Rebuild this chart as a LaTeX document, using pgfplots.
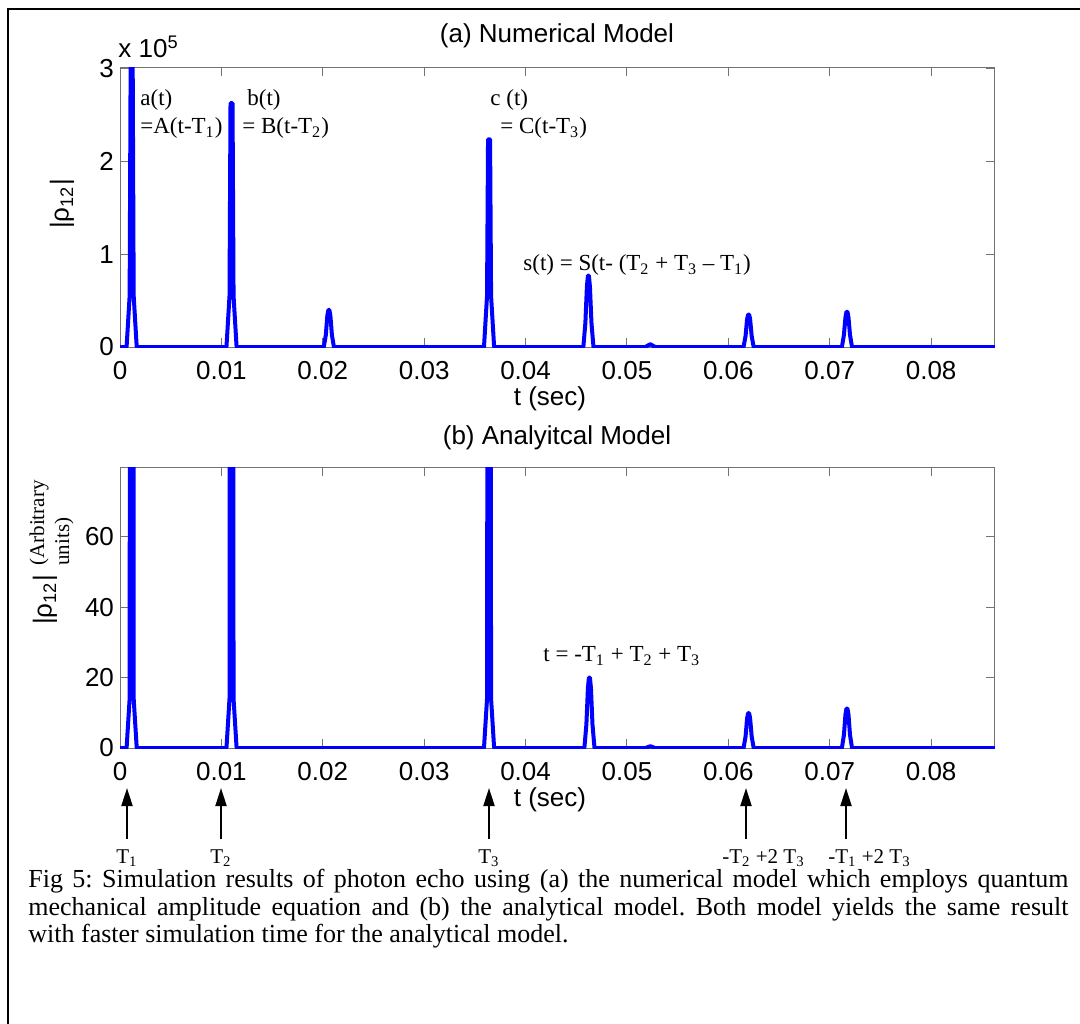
\documentclass[border=0pt]{standalone}
\usepackage{fontspec}
\setmainfont{Liberation Sans}
\newfontfamily\tnr{Liberation Serif}
\usepackage{pgfplots}
\pgfplotsset{compat=1.18}
\usetikzlibrary{arrows.meta}
\newcommand{\sz}{\fontsize{13}{15}\selectfont}
\newcommand{\tz}{\tnr\fontsize{11.5}{13}\selectfont}
\definecolor{axgray}{gray}{0.45}
\definecolor{mblue}{rgb}{0,0,1}

\pgfplotsset{
  panel/.style={
    scale only axis, width=437.5pt,
    xmin=0, xmax=0.0863,
    scaled x ticks=false, scaled y ticks=false,
    axis line style={axgray, line width=0.5pt},
    tick style={axgray, line width=0.5pt},
    major tick length=4.4pt,
    tick align=inside,
    xtick={0,0.01,0.02,0.03,0.04,0.05,0.06,0.07,0.08},
    xticklabels={0,0.01,0.02,0.03,0.04,0.05,0.06,0.07,0.08},
    ticklabel style={font=\sz, text=black},
    xticklabel style={yshift=-3.5pt},
    yticklabel style={xshift=0.5pt},
    clip=true,
  }
}

\begin{document}
\begin{tikzpicture}[x=1pt,y=1pt]
\useasboundingbox (0,0) rectangle (540,-511.5);
% outer frame (left and top edges visible)
\draw[line width=1pt] (4,-700) -- (4,-4.5) -- (700,-4.5);

% ---------- (a) numerical model ----------
\begin{axis}[panel, at={(60pt,-173.5pt)}, anchor=south west,
  height=140pt, ymin=0, ymax=3.02,
  ytick={0,1,2,3}, yticklabels={0,1,2,3}]
\addplot[mblue, line width=2pt, line join=round] coordinates {
(0,0)
(0.00065,0) (0.00095,0.55) (0.00105,3.08) (0.00125,3.08) (0.00135,0.55) (0.00165,0)
(0.0105,0) (0.0108,0.55) (0.0109,2.63) (0.0111,2.63) (0.0112,0.55) (0.0115,0)
(0.0201,0) (0.0203,0.13) (0.02045,0.34) (0.02055,0.40) (0.02065,0.40) (0.02075,0.34) (0.0209,0.13) (0.0211,0)
(0.0359,0) (0.0362,0.55) (0.0363,2.24) (0.0365,2.24) (0.0366,0.55) (0.0369,0)
(0.0457,0) (0.0459,0.26) (0.04605,0.65) (0.04615,0.77) (0.04625,0.77) (0.04635,0.65) (0.0465,0.26) (0.0467,0)
(0.0518,0) (0.0523,0.03) (0.0528,0)
(0.0615,0) (0.0617,0.12) (0.06185,0.3) (0.06195,0.35) (0.06205,0.35) (0.06215,0.3) (0.0623,0.12) (0.0625,0)
(0.0712,0) (0.0714,0.13) (0.07155,0.32) (0.07165,0.38) (0.07175,0.38) (0.07185,0.32) (0.072,0.13) (0.0722,0)
(0.0863,0)
};
\end{axis}

% ---------- (b) analytical model ----------
\begin{axis}[panel, at={(60pt,-374pt)}, anchor=south west,
  height=140.5pt, ymin=0, ymax=79.8,
  ytick={0,20,40,60}, yticklabels={0,20,40,60}]
\addplot[mblue, line width=2pt, line join=round] coordinates {
(0,0)
(0.00065,0) (0.00095,14) (0.00105,400) (0.00125,400) (0.00135,14) (0.00165,0)
(0.0105,0) (0.0108,14) (0.0109,300) (0.0111,300) (0.0112,14) (0.0115,0)
(0.0359,0) (0.0362,14) (0.0363,250) (0.0365,250) (0.0366,14) (0.0369,0)
(0.0458,0) (0.046,6.7) (0.04615,17) (0.04625,20) (0.04635,20) (0.04645,17) (0.0466,6.7) (0.0468,0)
(0.0518,0) (0.0523,0.5) (0.0528,0)
(0.0615,0) (0.0617,3.3) (0.06185,8.4) (0.06195,9.9) (0.06205,9.9) (0.06215,8.4) (0.0623,3.3) (0.0625,0)
(0.0712,0) (0.0714,3.7) (0.07155,9.5) (0.07165,11.2) (0.07175,11.2) (0.07185,9.5) (0.072,3.7) (0.0722,0)
(0.0863,0)
};
\end{axis}

% ---------- titles and labels ----------
\node[font=\sz] at (278.5,-18) {(a) Numerical Model};
\node[font=\sz, anchor=west, inner sep=0] at (59,-23.5) {x 10\textsuperscript{5}};
\node[font=\sz, rotate=90] at (31,-102) {|ρ\textsubscript{12}|};
\node[font=\sz] at (275,-199.5) {t (sec)};
\node[font=\sz] at (278.5,-219) {(b) Analyitcal Model};
\node[font=\sz, rotate=90] at (22.5,-300) {|ρ\textsubscript{12}|};
\node[font=\tnr\fontsize{10.5}{12}\selectfont, rotate=90, anchor=west, inner sep=0] at (19.5,-283) {(Arbitrary};
\node[font=\tnr\fontsize{10.5}{12}\selectfont, rotate=90, anchor=west, inner sep=0] at (32,-283) {units)};
\node[font=\sz] at (275,-400) {t (sec)};

% ---------- annotations ----------
\node[font=\tz, anchor=west, inner sep=0] at (70,-50) {a(t)};
\node[font=\tz, anchor=west, inner sep=0] at (70,-64) {=A(t-T\textsubscript{1})};
\node[font=\tz, anchor=west, inner sep=0] at (123.5,-50) {b(t)};
\node[font=\tz, anchor=west, inner sep=0] at (121,-64) {= B(t-T\textsubscript{2})};
\node[font=\tz, anchor=west, inner sep=0] at (245,-50) {c (t)};
\node[font=\tz, anchor=west, inner sep=0] at (250,-64) {= C(t-T\textsubscript{3})};
\node[font=\tz, anchor=west, inner sep=0] at (261.5,-132.5) {s(t) = S(t- (T\textsubscript{2} + T\textsubscript{3} – T\textsubscript{1})};
\node[font=\tz, anchor=west, inner sep=0] at (271.5,-328) {t = -T\textsubscript{1} + T\textsubscript{2} + T\textsubscript{3}};

% ---------- arrows below the lower panel ----------
\foreach \xx in {63.5,110.5,244.5,373,423}{
  \draw[line width=1pt, -{Triangle[width=5.5pt,length=9pt]}] (\xx,-419.5) -- (\xx,-394);
}
\node[font=\tnr\fontsize{10.5}{12}\selectfont] at (63.5,-429) {T\textsubscript{1}};
\node[font=\tnr\fontsize{10.5}{12}\selectfont] at (110.5,-429) {T\textsubscript{2}};
\node[font=\tnr\fontsize{10.5}{12}\selectfont] at (244.5,-429) {T\textsubscript{3}};
\node[font=\tnr\fontsize{10.5}{12}\selectfont, anchor=west, inner sep=0] at (361,-429) {-T\textsubscript{2} +2 T\textsubscript{3}};
\node[font=\tnr\fontsize{10.5}{12}\selectfont, anchor=west, inner sep=0] at (414,-429) {-T\textsubscript{1} +2 T\textsubscript{3}};

% ---------- caption ----------
\node[anchor=north west, inner sep=0] at (14,-434.5) {\parbox{520pt}{\tnr\fontsize{13}{13.8}\selectfont\frenchspacing
Fig 5: Simulation results of photon echo using (a) the numerical model which employs quantum\linebreak
mechanical amplitude equation and (b) the analytical model. Both model yields the same result\linebreak
with faster simulation time for the analytical model.}};
\end{tikzpicture}
\end{document}
